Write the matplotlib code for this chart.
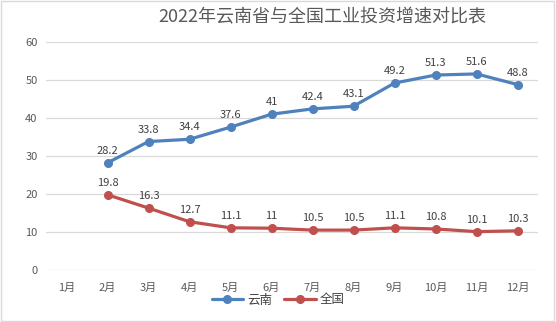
import matplotlib
matplotlib.use('Agg')
import matplotlib.pyplot as plt
import numpy as np

plt.rcParams['font.family'] = ['Noto Sans CJK SC', 'DejaVu Sans']

months = ['1月', '2月', '3月', '4月', '5月', '6月', '7月', '8月', '9月', '10月', '11月', '12月']
yunnan = [None, 28.2, 33.8, 34.4, 37.6, 41, 42.4, 43.1, 49.2, 51.3, 51.6, 48.8]
national = [None, 19.8, 16.3, 12.7, 11.1, 11, 10.5, 10.5, 11.1, 10.8, 10.1, 10.3]

fig = plt.figure(figsize=(5.56, 3.22), dpi=100)
ax = fig.add_axes([46 / 556, 1 - 270 / 322, 492 / 556, 228 / 322])

x = np.arange(len(months))
series = [('云南', yunnan, '#4F81BD'), ('全国', national, '#C0504D')]
for name, vals, col in series:
    xs = [i for i, v in zip(x, vals) if v is not None]
    ys = [v for v in vals if v is not None]
    ax.plot(xs, ys, color=col, lw=2.3, marker='o', ms=5.5, label=name,
            solid_capstyle='round')
    for xi, yi in zip(xs, ys):
        ax.annotate(f'{yi:g}', (xi, yi), xytext=(0, 5), textcoords='offset points',
                    ha='center', va='bottom', fontsize=8, color='#404040')

ax.set_xlim(-0.5, 11.5)
ax.set_ylim(0, 60)
ax.set_yticks(range(0, 61, 10))
ax.set_xticks(x)
ax.set_xticklabels(months)
ax.grid(axis='y', color='#d9d9d9', lw=0.9)
ax.set_axisbelow(True)
for s in ax.spines.values():
    s.set_visible(False)
ax.tick_params(length=0, labelsize=8, colors='#595959', pad=6)
ax.tick_params(axis='x', pad=9)

fig.text(322 / 556, 1 - 17 / 322, '2022年云南省与全国工业投资增速对比表',
         ha='center', va='center', fontsize=13, color='#595959')

fig.legend(loc='center', bbox_to_anchor=(278 / 556, 1 - 300 / 322), ncol=2,
           frameon=False, fontsize=9, handlelength=2.5, columnspacing=1.0,
           handletextpad=0.3, labelcolor='#404040')

fig.patches.append(plt.Rectangle((0.002, 0.003), 0.995, 0.994, transform=fig.transFigure,
                                 fill=False, edgecolor='#d9d9d9', lw=1))

fig.savefig('out.png', dpi=100)
